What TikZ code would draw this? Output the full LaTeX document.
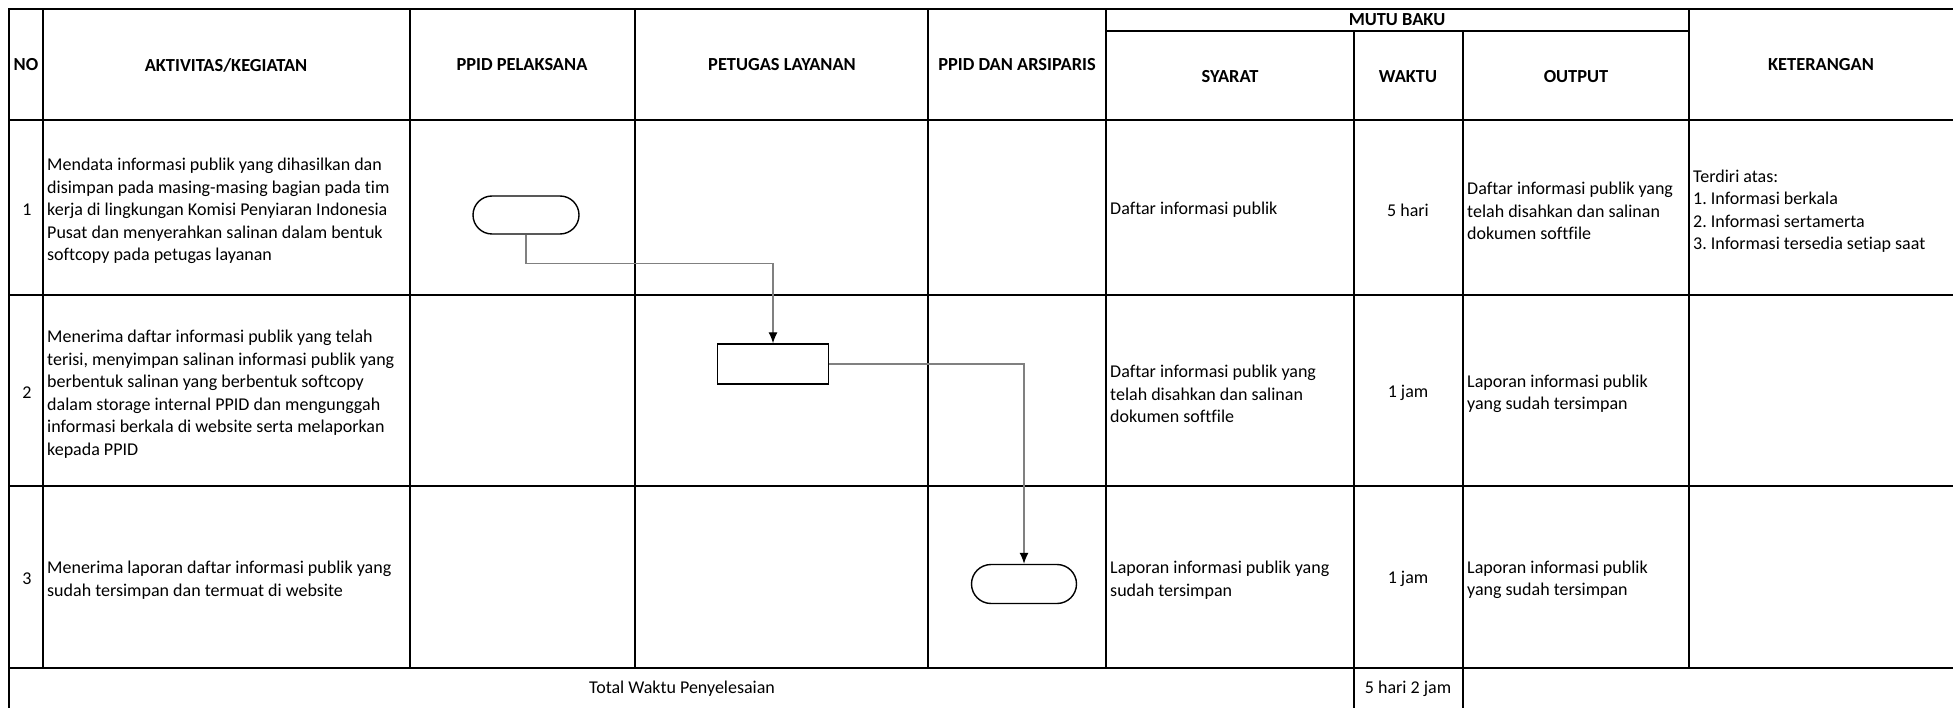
\documentclass[tikz,border=0pt]{standalone}
\usepackage{fontspec}
\setmainfont{Carlito}[Ligatures={NoCommon}]
\usetikzlibrary{arrows.meta}
\frenchspacing
\begin{document}
\begin{tikzpicture}[x=1pt,y=-1pt,
  grid/.style={line width=2.4pt, black, line cap=rect},
  hdr/.style={font=\fontsize{18.4}{22}\selectfont\bfseries, inner sep=0pt, align=center},
  txt/.style={font=\fontsize{18}{22.5}\selectfont, inner sep=0pt, align=left, anchor=west},
  ctr/.style={font=\fontsize{18}{22.5}\selectfont, inner sep=0pt, align=center},
  term/.style={draw, line width=1.4pt, rounded corners=19pt, minimum width=106pt, minimum height=38pt, inner sep=0pt},
  proc/.style={draw, line width=1.4pt, minimum width=111pt, minimum height=40pt, inner sep=0pt},
  flow/.style={draw=black!50, line width=1.2pt, -{Latex[length=11pt,width=9pt,color=black]}}
]
\useasboundingbox (0,0) rectangle (1953,708);
\fill[white] (0,0) rectangle (1953,708);
\begin{scope}
\clip (0,0) rectangle (1953,708);
% horizontal grid lines
\draw[grid] (9,9) -- (1960,9);
\draw[grid] (1106,31) -- (1689,31);
\draw[grid] (9,120) -- (1960,120);
\draw[grid] (9,295) -- (1960,295);
\draw[grid] (9,486) -- (1960,486);
\draw[grid] (9,668) -- (1960,668);
% vertical grid lines
\draw[grid] (9,9) -- (9,720);
\draw[grid] (43,9) -- (43,668);
\draw[grid] (410,9) -- (410,668);
\draw[grid] (635,9) -- (635,668);
\draw[grid] (928,9) -- (928,668);
\draw[grid] (1106,9) -- (1106,668);
\draw[grid] (1354,31) -- (1354,720);
\draw[grid] (1463,31) -- (1463,720);
\draw[grid] (1689,9) -- (1689,668);
\end{scope}

% header
\node[hdr] (hno) at (26,65) {NO};
\node[hdr] (hakt) at (226,65) {AKTIVITAS/KEGIATAN};
\node[hdr] (hpel) at (522,65) {PPID PELAKSANA};
\node[hdr] (hpet) at (782,65) {PETUGAS LAYANAN};
\node[hdr] (hars) at (1017,65) {PPID DAN ARSIPARIS};
\node[hdr] (hmutu) at (1397,20) {MUTU BAKU};
\node[hdr] (hsya) at (1230,77) {SYARAT};
\node[hdr] (hwak) at (1408,77) {WAKTU};
\node[hdr] (hout) at (1576,77) {OUTPUT};
\node[hdr] (hket) at (1821,65) {KETERANGAN};

% row 1
\node[ctr] (n1) at (27,210) {1};
\node[txt] (a1) at (47,211) {Mendata informasi publik yang dihasilkan dan\\disimpan pada masing-masing bagian pada tim\\kerja di lingkungan Komisi Penyiaran Indonesia\\Pusat dan menyerahkan salinan dalam bentuk\\softcopy pada petugas layanan};
\node[txt] (s1) at (1110,210) {Daftar informasi publik};
\node[ctr] (w1) at (1408,210) {5 hari};
\node[txt] (o1) at (1467,211) {Daftar informasi publik yang\\telah disahkan dan salinan\\dokumen softfile};
\node[txt] (k1) at (1693,211) {Terdiri atas:\\1. Informasi berkala\\2. Informasi sertamerta\\3. Informasi tersedia setiap saat};

% row 2
\node[ctr] (n2) at (27,393) {2};
\node[txt] (a2) at (47,394) {Menerima daftar informasi publik yang telah\\terisi, menyimpan salinan informasi publik yang\\berbentuk salinan yang berbentuk softcopy\\dalam storage internal PPID dan mengunggah\\informasi berkala di website serta melaporkan\\kepada PPID};
\node[txt] (s2) at (1110,394) {Daftar informasi publik yang\\telah disahkan dan salinan\\dokumen softfile};
\node[ctr] (w2) at (1408,393) {1 jam};
\node[txt] (o2) at (1467,394) {Laporan informasi publik\\yang sudah tersimpan};

% row 3
\node[ctr] (n3) at (27,579) {3};
\node[txt] (a3) at (47,580) {Menerima laporan daftar informasi publik yang\\sudah tersimpan dan termuat di website};
\node[txt] (s3) at (1110,580) {Laporan informasi publik yang\\sudah tersimpan};
\node[ctr] (w3) at (1408,579) {1 jam};
\node[txt] (o3) at (1467,580) {Laporan informasi publik\\yang sudah tersimpan};

% total row
\node[ctr] (tot) at (682,689) {Total Waktu Penyelesaian};
\node[ctr] (totw) at (1408,689) {5 hari 2 jam};

% flow shapes
\node[term] (t1) at (526,215) {};
\node[proc] (p2) at (773,364) {};
\node[term, minimum width=105pt, minimum height=39pt, rounded corners=19.5pt] (t3) at (1024,584) {};

\draw[flow] (t1.south) -- ++(0,29) -| (p2.north);
\draw[flow] (p2.east) -| (t3.north);
\end{tikzpicture}
\end{document}
